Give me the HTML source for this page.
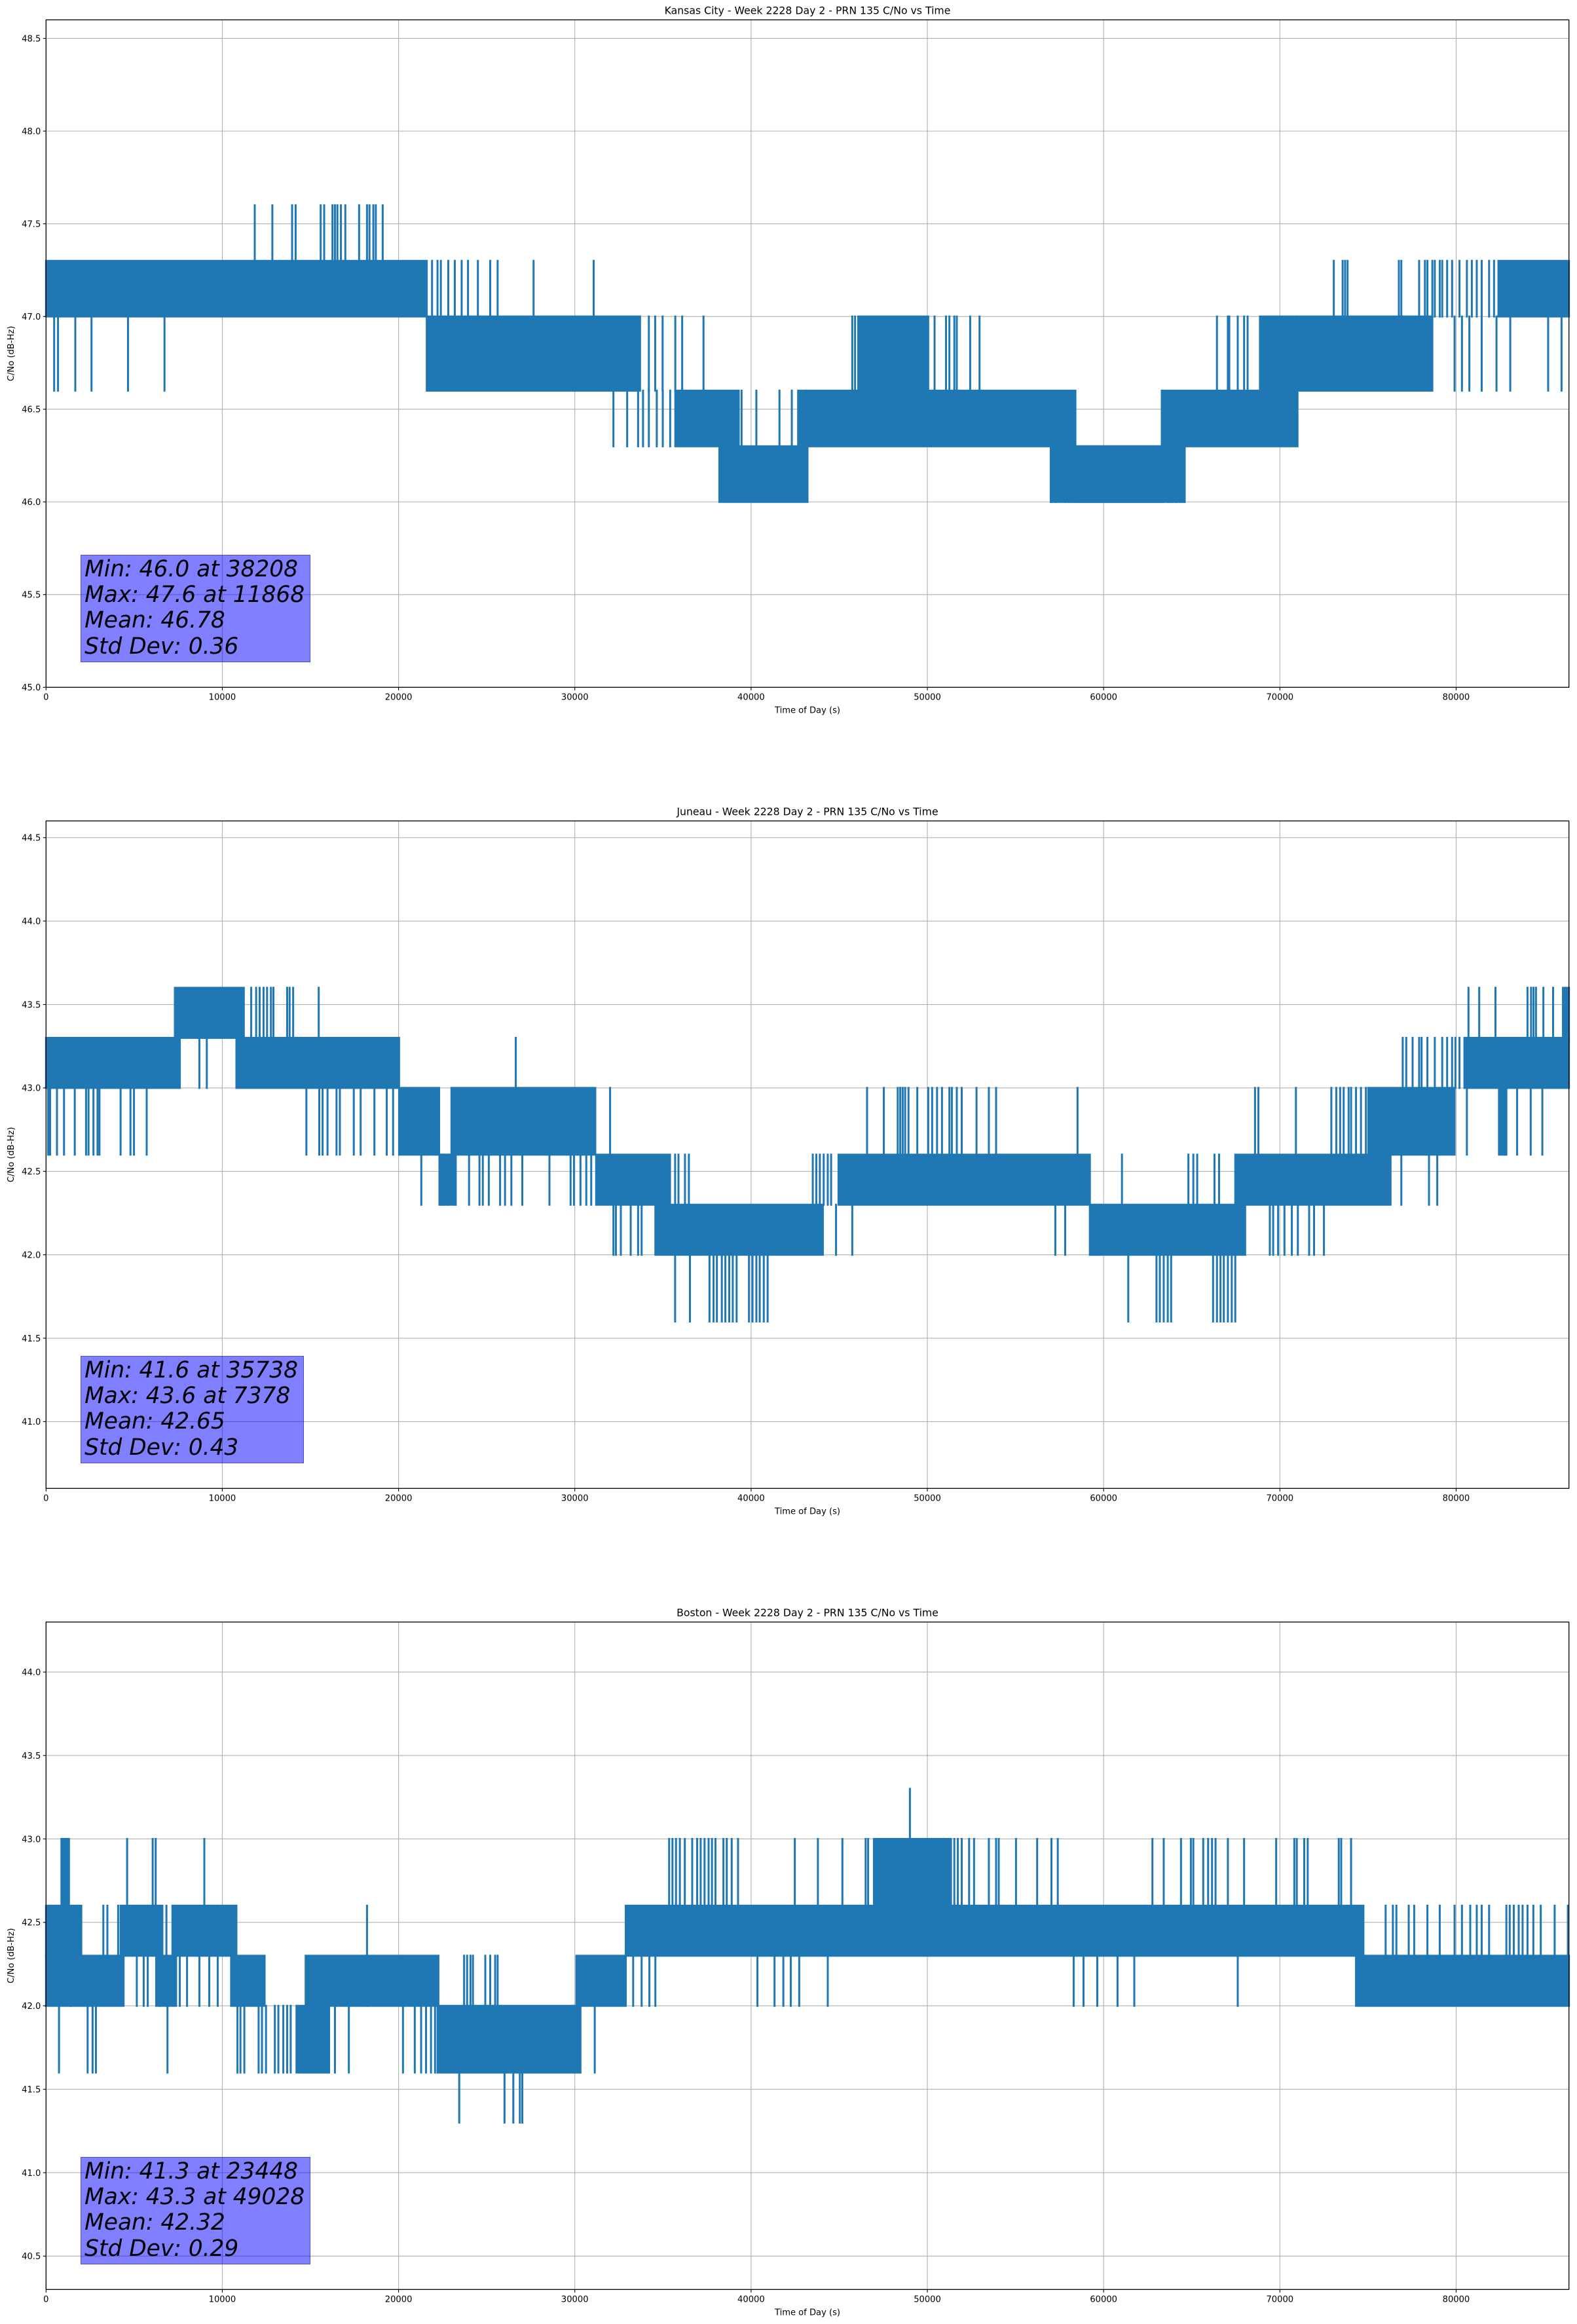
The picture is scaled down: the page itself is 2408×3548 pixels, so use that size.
<!DOCTYPE html>
<html><head><meta charset="utf-8"><style>
html,body{margin:0;padding:0;background:#fff;}
#wrap{position:relative;width:2408px;height:3548px;overflow:hidden;}
svg{position:absolute;left:0;top:0;}
.stat{position:absolute;background:rgba(0,0,255,0.5);border:1.3px solid rgba(40,40,140,0.55);padding:2px 8px 3px 5px;font:italic 34.4px "DejaVu Sans","Liberation Sans",sans-serif;line-height:39.3px;color:#000;white-space:pre;}
</style></head><body>
<div id="wrap">
<svg id="fig" width="2408" height="3548" xmlns="http://www.w3.org/2000/svg"></svg>
</div>
<script>
// ===== Kansas City =====
const kcBandStart=[0,21600,35700,38200,42700,46080,57000,58380,63300,68870,71000,82400];
const kcBandEnd=[21500,33700,39300,43200,58400,50050,64600,63410,71000,70960,78650,86400];
const kcBandLow=[47.0,46.6,46.3,46.0,46.3,46.6,46.0,46.0,46.3,46.6,46.6,47.0];
const kcBandHigh=[47.3,47.0,46.6,46.3,46.6,47.0,46.3,46.3,46.6,47.0,47.0,47.3];
const kcSpikeLow=[47.3,46.6,47.0,46.6,46.3,46.3,46.6,46.0,46.0,46.6,47.0,46.6];
const kcSpikeHigh=[47.6,47.0,47.3,47.0,46.6,46.6,47.0,46.3,46.3,47.0,47.3,47.0];
const kcSpikeTimes=[
[11840,12840,13960,14160,15580,15780,16250,16390,16530,16730,16980,17760,18210,18350,18570,18710,19100],
[460,680,1660,2580,4650,6720],
[21600,21900,22210,22400,22820,23190,23580,23940,24500,25200,25620,27660,31070],
[34200,34560,34980,35700,36090,37300],
[32190,32970,33590,33870,34200,34650,34990,35410],
[39460,40300,41610,42310,42670,43090],
[45740,45900,50410,51060,51250,51530,51670,52430,52960],
[57040,57260,57820,58040,58240],
[63690,63890,64110,64390,64590],
[66430,67050,67130,67610,67970,68170],
[73060,73560,73700,73840,76750,76890,77900,78230,78370,78650,78790,79070,79210,79490,79770,80190,80610,80890,81170,81450,81870,82150],
[79910,80330,80750,81450,82290,83070,85220,85980]];
// ===== Juneau =====
const jnBandStart=[0,7310,10800,20030,23000,22320,31210,34570,44960,59220,67470,75020,80470,82430,86060];
const jnBandEnd=[7590,11220,20030,22300,31160,23240,35400,44070,59220,68030,76280,79910,86400,82850,86400];
const jnBandLow=[43.0,43.3,43.0,42.6,42.6,42.3,42.3,42.0,42.3,42.0,42.3,42.6,43.0,42.6,43.3];
const jnBandHigh=[43.3,43.6,43.3,43.0,43.0,42.6,42.6,42.3,42.6,42.3,42.6,43.0,43.3,43.0,43.6];
const jnSpikeLow=[42.6,43.3,43.0,42.6,42.3,43.0,42.6,42.0,41.6,42.3,42.0,42.6,42.3,41.6,42.6,42.0,43.0,42.6,42.3,43.3];
const jnSpikeHigh=[43.0,43.6,43.3,43.0,42.6,43.3,43.0,42.3,42.0,42.6,42.3,43.0,42.6,42.0,43.0,42.3,43.3,43.0,42.6,43.6];
const jnSpikeTimes=[
[120,230,620,1020,1630,2270,2410,2690,2920,3030,4230,4790,4990,5710],
[11640,11920,12120,12340,12540,12760,12900,13680,13820,14020,15470],
[8700,9120],
[14770,15500,15690,15970,16480,16670,17460,17850,18630,19330,19690],
[21290,22400,22540,22820,23240,24000,24590,24780,25120,25760,26040,26400,27020,28560,29760,29950,30320,30650,30930],
[26650],
[32000],
[32190,32330,32610,33170,33590,33790,44820,45740,57260,57820,59280,59500,59780],
[35690,36530,37640,37870,38060,38340,38540,38760,38960,39180,39880,40080,40300,40490,40720,40940],
[35690,35880,36250,36470,43500,43700,43900,44120,44350,44540,61040,64810,65090,65310,66290,66550],
[69430,69620,69900,70260,70680,71020,71660,71940,72500],
[46580,47530,48320,48460,48600,48740,48930,49430,50050,50270,50550,50830,51250,51390,51670,51950,52790,53490,53900,58520],
[76890,78460,78930],
[61400,63000,63190,63410,63640,63830,66210,66430,66630,66820,67050,67270,67470],
[68590,68780,70910,72920,73200,73420,73620,73900,74040,74320,74600,74880],
[],
[76970,77170,77530,77900,78040,78370,78790,79210,79490,79770,79960,80190],
[80610,83460,84230,84890],
[],
[80700,81310,82230,84050,84250,84390,84530,84950,85500]];
// ===== Boston =====
const bsBandStart=[0,0,875,1350,4230,6250,7170,10500,14730,14210,22210,30090,32890,47000,74320];
const bsBandEnd=[1400,2000,1300,4400,6600,7380,10800,12400,22260,16060,30230,32890,74740,51340,86400];
const bsBandLow=[42.0,42.3,42.6,42.0,42.3,42.0,42.3,42.0,42.0,41.6,41.6,42.0,42.3,42.6,42.0];
const bsBandHigh=[42.3,42.6,43.0,42.3,42.6,42.3,42.6,42.3,42.3,42.0,42.0,42.3,42.6,43.0,42.3];
const bsSpikeLow=[42.6,43.0,42.3,42.0,42.3,42.0,41.6,41.3,42.0,42.0,42.0];
const bsSpikeHigh=[43.0,43.3,42.6,42.6,42.6,42.3,42.0,41.6,42.3,42.6,42.3];
const bsSpikeTimes=[
[4600,6050,6220,8980,43790,45180,46500,46640,46970,47140,47340,47530,47760,47980,51530,51730,51950,52370,52650,53490,53900,54050,55030,56230,57040,57400,62770,63410,64390,64950,65090,65650,65930,66150,66350,67050,67970,69790,70820,70960,71380,71580,73340,73480,74040,35350,35540,35740,35960,36240,36660,36940,37140,37360,37590,37780,37980,38430,38620,38900,39260,42480],
[49010],
[3250,3480,4090],
[18210,5150,5540,5770,6470,6830,7590,8000,8700,9260,9740],
[76000,76410,76610,77310,77620,78370,79070,79910,80330,80800,81170,81450,81870,82850,83040,83270,83550,83770,84050,84380,84800,85590,86340],
[44350,58300,58860,59640,60790,61740,67610,33310,33790,34230,34570,40360,41330,41830,42250,42730],
[735,2360,2640,2830,6890,10860,11030,11250,12060,12250,12480,12980,13180,13460,13680,13880,16390,17180,20250,20920,21280,21560,21840,22070,30320,31130],
[23440,26010,26510,26880,27020],
[23720,23890,24080,24220,24920,25200,25480,25620],
[],
[]];
// ===== shared axis data =====
const xTickValues=[0,10000,20000,30000,40000,50000,60000,70000,80000];
const kcYTicks=[45.0,45.5,46.0,46.5,47.0,47.5,48.0,48.5];
const jnYTicks=[41.0,41.5,42.0,42.5,43.0,43.5,44.0,44.5];
const bsYTicks=[40.5,41.0,41.5,42.0,42.5,43.0,43.5,44.0];
const kcStats=["Min: 46.0 at 38208","Max: 47.6 at 11868","Mean: 46.78","Std Dev: 0.36"];
const jnStats=["Min: 41.6 at 35738","Max: 43.6 at 7378","Mean: 42.65","Std Dev: 0.43"];
const bsStats=["Min: 41.3 at 23448","Max: 43.3 at 49028","Mean: 42.32","Std Dev: 0.29"];

const NS="http://www.w3.org/2000/svg";
const svg=document.getElementById('fig');
const wrap=document.getElementById('wrap');
const L=70.3,R=2395.7,H=1019,XMAX=86400,BLUE="#1f77b4";
function mk(tag,attrs,parent){const e=document.createElementNS(NS,tag);for(const k in attrs)e.setAttribute(k,attrs[k]);(parent||svg).appendChild(e);return e;}

const charts=[
 {key:'kansas-city',top:30.3,ymin:45.0,ymax:48.6,title:"Kansas City - Week 2228 Day 2 - PRN 135 C/No vs Time",yt:kcYTicks,bs:kcBandStart,be:kcBandEnd,bl:kcBandLow,bh:kcBandHigh,sl:kcSpikeLow,sh:kcSpikeHigh,st:kcSpikeTimes,stats:kcStats},
 {key:'juneau',top:1253.3,ymin:40.6,ymax:44.6,title:"Juneau - Week 2228 Day 2 - PRN 135 C/No vs Time",yt:jnYTicks,bs:jnBandStart,be:jnBandEnd,bl:jnBandLow,bh:jnBandHigh,sl:jnSpikeLow,sh:jnSpikeHigh,st:jnSpikeTimes,stats:jnStats},
 {key:'boston',top:2476.3,ymin:40.3,ymax:44.3,title:"Boston - Week 2228 Day 2 - PRN 135 C/No vs Time",yt:bsYTicks,bs:bsBandStart,be:bsBandEnd,bl:bsBandLow,bh:bsBandHigh,sl:bsSpikeLow,sh:bsSpikeHigh,st:bsSpikeTimes,stats:bsStats}
];

charts.forEach(c=>{
 const top=c.top,bot=top+H;
 const xs=t=>L+(t/XMAX)*(R-L);
 const ys=v=>bot-(v-c.ymin)/(c.ymax-c.ymin)*H;
 const g=mk('g',{});
 
 
 xTickValues.forEach(v=>{const l=mk('line',{x1:xs(v),x2:xs(v),y1:top,y2:bot,stroke:'#b0b0b0','stroke-width':1.1},g);
  });
 c.yt.forEach(v=>{const l=mk('line',{x1:L,x2:R,y1:ys(v),y2:ys(v),stroke:'#b0b0b0','stroke-width':1.1},g);
  });
 const dg=mk('g',{},g);
 
 
 for(let i=0;i<c.bs.length;i++){
  const x0=xs(c.bs[i]),x1=xs(c.be[i]);
  const r=mk('rect',{x:x0-1.5,y:ys(c.bh[i])-1.5,width:Math.max(3,x1-x0+3),height:ys(c.bl[i])-ys(c.bh[i])+3,fill:BLUE},dg);
  
 }
 for(let k=0;k<c.st.length;k++){
  c.st[k].forEach(t=>{
   const l=mk('line',{x1:xs(t),x2:xs(t),y1:ys(c.sh[k])-1.5,y2:ys(c.sl[k])+1.5,stroke:BLUE,'stroke-width':3},dg);
   
  });
 }
 const sp=mk('rect',{x:L,y:top,width:R-L,height:H,fill:'none',stroke:'#000','stroke-width':1.3},g);
 
 xTickValues.forEach(v=>{mk('line',{x1:xs(v),x2:xs(v),y1:bot,y2:bot+4.6,stroke:'#000','stroke-width':1.1},g);
  const t=mk('text',{x:xs(v),y:bot+19,'text-anchor':'middle','font-family':'DejaVu Sans, Liberation Sans, sans-serif','font-size':13.1,fill:'#000'},g);
  t.textContent=String(v);});
 c.yt.forEach(v=>{mk('line',{x1:L-4.6,x2:L,y1:ys(v),y2:ys(v),stroke:'#000','stroke-width':1.1},g);
  const t=mk('text',{x:L-8,y:ys(v)+4.8,'text-anchor':'end','font-family':'DejaVu Sans, Liberation Sans, sans-serif','font-size':13.1,fill:'#000'},g);
  t.textContent=v.toFixed(1);});
 const ti=mk('text',{x:(L+R)/2,y:top-9,'text-anchor':'middle','font-family':'DejaVu Sans, Liberation Sans, sans-serif','font-size':15.7,fill:'#000'},g);
 ti.textContent=c.title;
 const xl=mk('text',{x:(L+R)/2,y:bot+39,'text-anchor':'middle','font-family':'DejaVu Sans, Liberation Sans, sans-serif','font-size':13.1,fill:'#000'},g);
 xl.textContent="Time of Day (s)";
 const yl=mk('text',{x:0,y:0,'text-anchor':'middle','font-family':'DejaVu Sans, Liberation Sans, sans-serif','font-size':13.1,fill:'#000',transform:`translate(21,${top+H/2}) rotate(-90)`},g);
 yl.textContent="C/No (dB-Hz)";
 const d=document.createElement('div');
 d.className='stat';
 d.style.left=(xs(2000)-1)+'px';
 d.style.top=(top+816.5)+'px';
 d.textContent=c.stats.join('\n');
 
 
 wrap.appendChild(d);
});
</script>
</body></html>
